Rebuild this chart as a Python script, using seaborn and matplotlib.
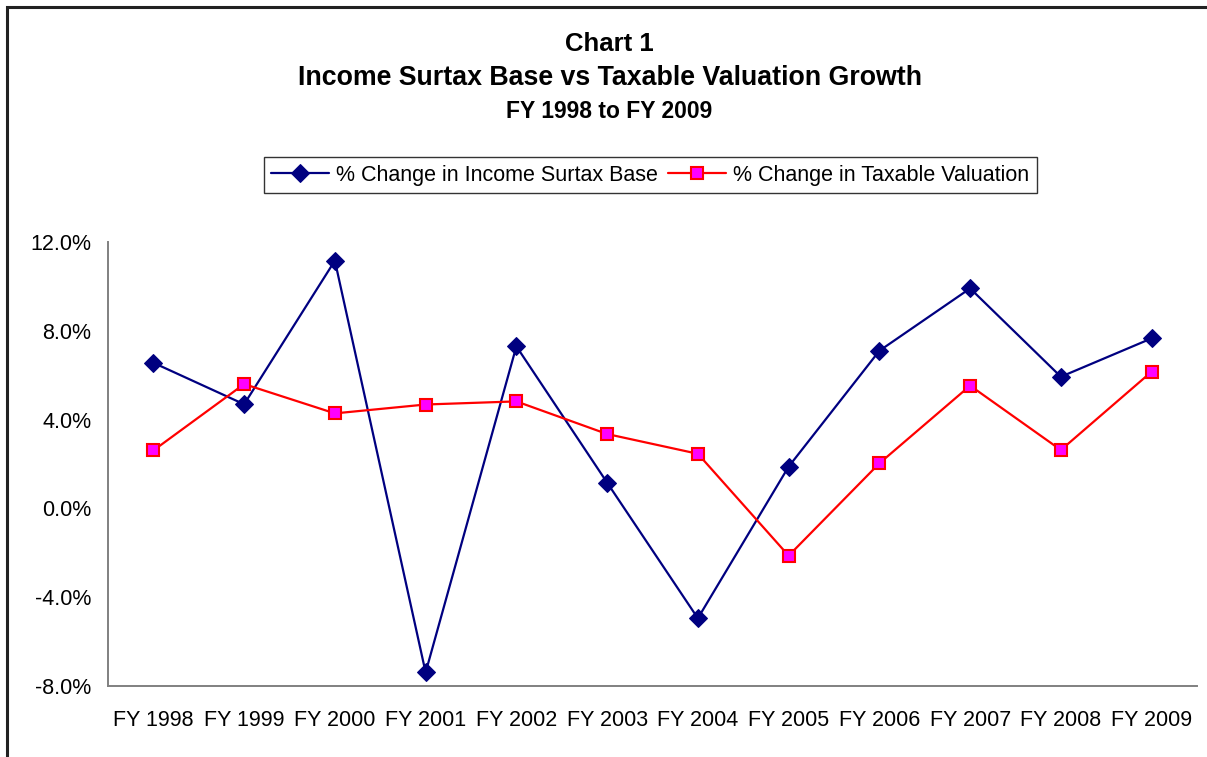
import seaborn as sns
import matplotlib.pyplot as plt
import matplotlib.patches as mpatches
from matplotlib.ticker import FixedLocator, FuncFormatter
import pandas as pd
import numpy as np

sns.set_style("white")
plt.rcParams['font.family'] = ['Liberation Sans', 'DejaVu Sans']
plt.rcParams['text.color'] = 'black'
plt.rcParams['xtick.color'] = 'black'
plt.rcParams['ytick.color'] = 'black'
plt.rcParams['xtick.labelcolor'] = 'black'
plt.rcParams['ytick.labelcolor'] = 'black'

# data (percent change)
years = ['FY 1998', 'FY 1999', 'FY 2000', 'FY 2001', 'FY 2002', 'FY 2003',
         'FY 2004', 'FY 2005', 'FY 2006', 'FY 2007', 'FY 2008', 'FY 2009']
surtax_base = [6.56, 4.69, 11.16, -7.39, 7.3, 1.16, -4.95, 1.88, 7.1, 9.91, 5.93, 7.66]
taxable_val = [2.61, 5.6, 4.28, 4.68, 4.82, 3.35, 2.46, -2.13, 2.03, 5.53, 2.63, 6.16]

df = pd.DataFrame({
    'pos': np.arange(len(years)),
    'surtax': surtax_base,
    'taxable': taxable_val,
})

fig = plt.figure(figsize=(12.07, 7.57), dpi=100)
ax = fig.add_axes([108 / 1207, 1 - 686 / 757, (1197 - 108) / 1207, (686 - 242) / 757])

sns.lineplot(data=df, x='pos', y='surtax', ax=ax, color='#000080', linewidth=1.6,
             marker='D', markersize=9, markerfacecolor='#000080',
             markeredgecolor='#000080', label='% Change in Income Surtax Base')
sns.lineplot(data=df, x='pos', y='taxable', ax=ax, color='#FF0000', linewidth=1.6,
             marker='s', markersize=9, markerfacecolor='#FF00FF',
             markeredgecolor='#FF0000', markeredgewidth=1.5,
             label='% Change in Taxable Valuation')

# axes limits and ticks
ax.set_xlim(-0.5, len(years) - 0.5)
ax.set_ylim(-8, 12)
ax.set_yticks([-8, -4, 0, 4, 8, 12])
ax.yaxis.set_major_formatter(FuncFormatter(lambda v, p: f'{v:.1f}%'))
ax.xaxis.set_major_locator(FixedLocator(np.arange(-0.5, len(years), 1.0)))
ax.xaxis.set_major_formatter(FuncFormatter(lambda v, p: ''))
ax.set_xticks(np.arange(len(years)), minor=True)
ax.set_xticklabels(years, minor=True)
ax.tick_params(axis='x', which='major', direction='out', length=6, width=1.2, color='#808080')
ax.tick_params(axis='x', which='minor', length=0, labelsize=15.5, pad=17)
ax.tick_params(axis='y', direction='out', length=6, width=1.2, color='#808080',
               labelsize=15.5, pad=6)
ax.set_xlabel('')
ax.set_ylabel('')

for s in ['top', 'right']:
    ax.spines[s].set_visible(False)
for s in ['left', 'bottom']:
    ax.spines[s].set_color('#808080')
    ax.spines[s].set_linewidth(1.4)

# legend
leg = ax.legend(loc='center', bbox_to_anchor=(650 / 1207, 1 - 175 / 757),
                bbox_transform=fig.transFigure, ncol=2, fontsize=15.5,
                frameon=True, fancybox=False, edgecolor='black',
                handlelength=2.7, handletextpad=0.3, columnspacing=0.5,
                borderpad=0.35)
leg.get_frame().set_linewidth(1.0)

# titles
fig.text(0.505, 1 - 44 / 757, 'Chart 1', ha='center', va='center',
         fontsize=18.5, fontweight='bold')
fig.text(0.505, 1 - 78 / 757, 'Income Surtax Base vs Taxable Valuation Growth',
         ha='center', va='center', fontsize=19.3, fontweight='bold')
fig.text(0.505, 1 - 112 / 757, 'FY 1998 to FY 2009', ha='center', va='center',
         fontsize=16.5, fontweight='bold')

# outer chart border
border = mpatches.Rectangle((7 / 1207, -0.02), 1.05, 1 - 7 / 757 + 0.02,
                            transform=fig.transFigure, fill=False,
                            edgecolor='#222222', linewidth=2.2)
fig.patches.append(border)

plt.savefig('out.png')
plt.close()
